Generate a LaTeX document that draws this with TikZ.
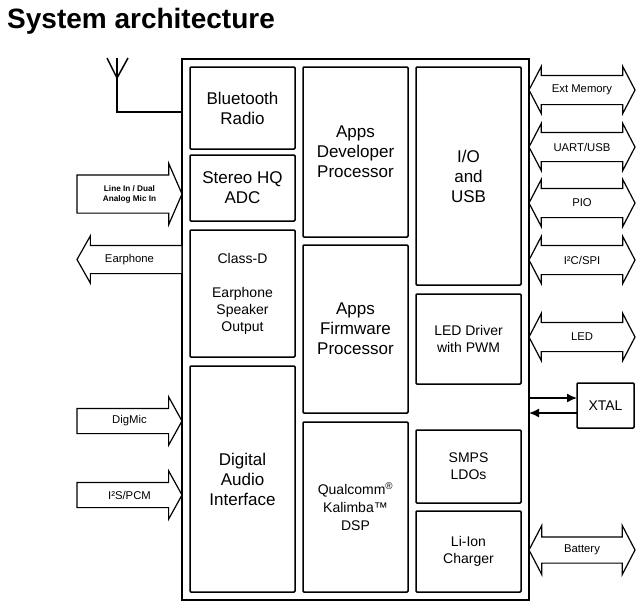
\documentclass[tikz,border=0pt]{standalone}
\usepackage{fontspec}
\setmainfont{Liberation Sans}
\usetikzlibrary{shapes.arrows, arrows.meta, positioning, calc}

\begin{document}
\begin{tikzpicture}[
    x=1pt, y=-1pt,
    blk/.style={
        rectangle,
        draw=black,
        fill=white,
        line width=1.5pt,
        rounded corners=1pt,
        minimum width=105pt,
        inner sep=0pt,
        outer sep=0pt,
        align=center,
        font=\fontsize{17}{20}\selectfont
    },
    blksmall/.style={
        blk,
        font=\fontsize{14}{17}\selectfont
    },
    fatarrow/.style={
        draw=black,
        fill=white,
        line width=1.2pt,
        inner xsep=0pt,
        outer sep=0pt
    },
    inarrow/.style={
        fatarrow,
        single arrow,
        minimum height=105pt
    },
    biarrow/.style={
        fatarrow,
        double arrow,
        minimum height=106pt,
        double arrow tip angle=125
    },
    lbl/.style={
        font=\fontsize{11.3}{13}\selectfont,
        inner sep=0pt,
        align=center
    },
    wire/.style={
        line width=1.5pt
    },
    sig/.style={
        -{Latex[length=10pt, width=9pt]},
        line width=1.5pt
    }
]
\useasboundingbox (0,0) rectangle (644,610);

% Title
\node[anchor=base west, inner sep=0pt, font=\fontsize{28}{32}\selectfont\bfseries] (title) at (7,29) {System architecture};

% Chip outline
\node[draw, line width=1.8pt, minimum width=347pt, minimum height=541pt,
      inner sep=0pt, outer sep=0pt, anchor=north west] (chip) at (182,59) {};

% Audio column
\node[blk, minimum height=82pt, anchor=north west] (bt) at (190,67) {Bluetooth\\Radio};
\node[blk, minimum height=66pt, below=6pt of bt] (adc) {Stereo HQ\\ADC};
\node[blksmall, minimum height=127pt, below=9pt of adc] (classd) {Class-D\\[17pt]Earphone\\Speaker\\Output};
\node[blk, minimum height=226pt, below=9pt of classd] (dai) {Digital\\Audio\\Interface};

% Processor column
\node[blk, minimum height=170pt, anchor=north west] (adp) at ([xshift=8pt]bt.north east) {Apps\\Developer\\Processor};
\node[blk, minimum height=168pt, below=8pt of adp] (afp) {Apps\\Firmware\\Processor};
\node[blk, font=\fontsize{14}{18}\selectfont, minimum height=170pt, below=9pt of afp] (dsp) {Qualcomm\textsuperscript{®}\\Kalimba™\\DSP};

% Peripheral column
\node[blk, minimum height=218pt, anchor=north west] (io) at ([xshift=8pt]adp.north east) {I/O\\and\\USB};
\node[blksmall, minimum height=90pt, below=9pt of io] (ledd) {LED Driver\\with PWM};
\node[blksmall, minimum height=73pt, below=46pt of ledd] (smps) {SMPS\\LDOs};
\node[blksmall, minimum height=81pt, below=8pt of smps] (chg) {Li-Ion\\Charger};

% Crystal
\node[blksmall, minimum width=57pt, minimum height=45pt, anchor=west] (xtal) at (577,405.5) {XTAL};
\coordinate (xtin) at ([yshift=7.5pt]xtal.west);
\coordinate (xtout) at ([yshift=-7.5pt]xtal.west);
\draw[sig] (chip.east |- xtin) -- (xtin);
\draw[sig] (xtout) -- (chip.east |- xtout);

% Antenna
\coordinate (antfoot) at (117,112);
\coordinate (antroot) at (117,78);
\coordinate (anttop) at (117,58);
\draw[wire] (chip.west |- antfoot) -- (antfoot) -- (anttop);
\draw[wire] ([xshift=-10pt]anttop) -- (antroot) -- ([xshift=11pt]anttop);

% Left side signals
\node[inarrow, inner ysep=18.5pt, single arrow head extend=11.5pt, single arrow tip angle=133, anchor=tip] (linein) at (chip.west |- 0,194) {};
\node[lbl, font=\fontsize{8.2}{10}\selectfont\bfseries] (lineinlbl) at ($(linein.tip)!0.5!(linein.tail)$) {Line In / Dual\\Analog Mic In};

\node[inarrow, inner ysep=13.5pt, single arrow head extend=9.5pt, single arrow tip angle=121, shape border rotate=180, anchor=tail] (earph) at (chip.west |- 0,259.5) {};
\node[lbl] (earphlbl) at ($(earph.tip)!0.5!(earph.tail)$) {Earphone};

\node[inarrow, inner ysep=12pt, single arrow head extend=11.5pt, single arrow tip angle=122, anchor=tip] (digmic) at (chip.west |- 0,421) {};
\node[lbl] (digmiclbl) at ($(digmic.tip)!0.5!(digmic.tail)$) {DigMic};

\node[inarrow, inner ysep=12pt, single arrow head extend=11.5pt, single arrow tip angle=122, anchor=tip] (i2s) at (chip.west |- 0,495) {};
\node[lbl] (i2slbl) at ($(i2s.tip)!0.5!(i2s.tail)$) {I²S/PCM};

% Right side interfaces
\node[biarrow, inner ysep=14pt, double arrow head extend=9pt] (extmem) at (582,90) {};
\node[lbl] (extmemlbl) at (extmem) {Ext Memory};

\node[biarrow, inner ysep=14pt, double arrow head extend=9pt] (uart) at (582,147) {};
\node[lbl] (uartlbl) at (uart) {UART/USB};

\node[biarrow, inner ysep=14pt, double arrow head extend=9pt] (pio) at (582,203) {};
\node[lbl] (piolbl) at (pio) {PIO};

\node[biarrow, inner ysep=14pt, double arrow head extend=9pt] (i2c) at (582,260) {};
\node[lbl] (i2clbl) at (i2c) {I²C/SPI};

\node[biarrow, inner ysep=14pt, double arrow head extend=9pt] (led) at (582,337) {};
\node[lbl] (ledlbl) at (led) {LED};

\node[biarrow, inner ysep=12.5pt, double arrow head extend=11.5pt] (batt) at (582,550) {};
\node[lbl] (battlbl) at (batt) {Battery};

\end{tikzpicture}
\end{document}
